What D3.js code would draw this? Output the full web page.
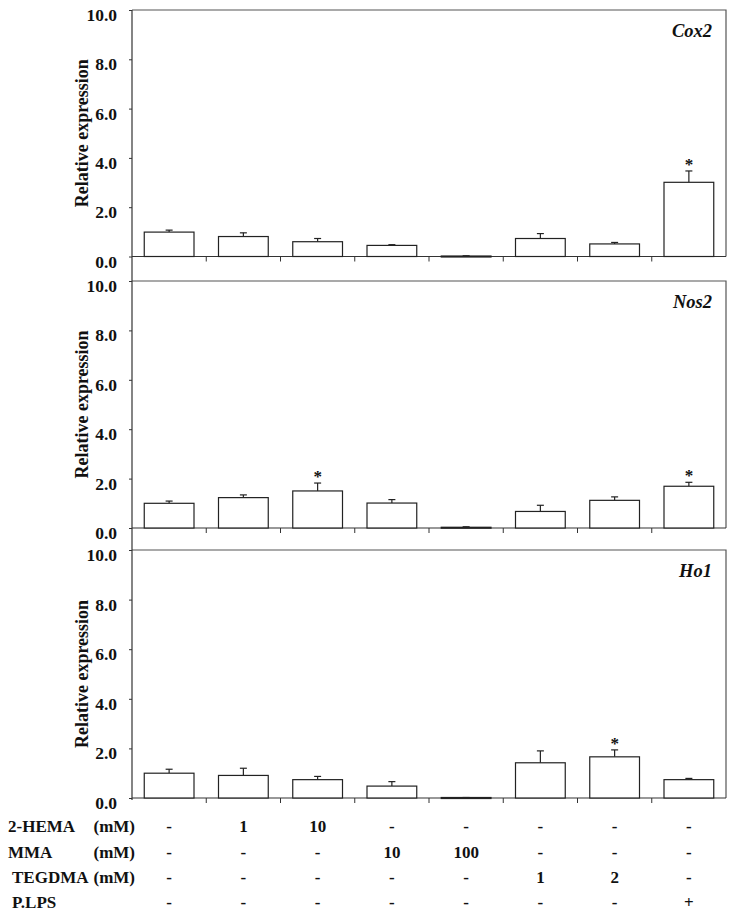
<!DOCTYPE html>
<html>
<head>
<meta charset="utf-8">
<script src="https://cdn.jsdelivr.net/npm/d3@7"></script>
<style>
  html, body { margin: 0; padding: 0; background: #fff; }
  svg { display: block; }
  text { font-family: "Liberation Serif", "Times New Roman", serif; font-weight: bold; fill: #111; }
</style>
</head>
<body>
<script>
// ---- data ----
const categories = ["c1", "c2", "c3", "c4", "c5", "c6", "c7", "c8"];
const genes = ["Cox2", "Nos2", "Ho1"];
const cox2Values = [0.99, 0.81, 0.60, 0.45, 0.02, 0.73, 0.51, 3.01];
const cox2Errors = [0.08, 0.15, 0.13, 0.03, 0.01, 0.20, 0.06, 0.46];
const cox2Signif = [false, false, false, false, false, false, false, true];
const nos2Values = [1.00, 1.23, 1.50, 1.01, 0.03, 0.67, 1.12, 1.69];
const nos2Errors = [0.09, 0.11, 0.32, 0.14, 0.02, 0.25, 0.14, 0.16];
const nos2Signif = [false, false, true, false, false, false, false, true];
const ho1Values = [1.00, 0.91, 0.74, 0.48, 0.02, 1.42, 1.66, 0.74];
const ho1Errors = [0.16, 0.29, 0.13, 0.18, 0.00, 0.48, 0.28, 0.05];
const ho1Signif = [false, false, false, false, false, false, true, false];
const yTicks = [0, 2, 4, 6, 8, 10];
const yLabel = "Relative expression";
const rowNames = ["2-HEMA", "MMA", "TEGDMA", "P.LPS"];
const rowUnits = ["(mM)", "(mM)", "(mM)", ""];
const hemaRow = ["-", "1", "10", "-", "-", "-", "-", "-"];
const mmaRow = ["-", "-", "-", "10", "100", "-", "-", "-"];
const tegdmaRow = ["-", "-", "-", "-", "-", "1", "2", "-"];
const plpsRow = ["-", "-", "-", "-", "-", "-", "-", "+"];

const panels = [
  { gene: genes[0], values: cox2Values, errors: cox2Errors, signif: cox2Signif },
  { gene: genes[1], values: nos2Values, errors: nos2Errors, signif: nos2Signif },
  { gene: genes[2], values: ho1Values, errors: ho1Errors, signif: ho1Signif }
];
const tableRows = [hemaRow, mmaRow, tegdmaRow, plpsRow];

// ---- layout ----
const W = 738, H = 923;
const left = 132, right = 726;
const panelTop = [10, 281, 550];
const panelZero = [256.5, 528, 798];

const svg = d3.select("body").append("svg").attr("width", W).attr("height", H);

const x = d3.scaleBand().domain(categories).range([left, right])
  .paddingInner(0.33).paddingOuter(0.165);
const step = x.step();

panels.forEach((p, i) => {
  const y = d3.scaleLinear().domain([0, 10]).range([panelZero[i], panelTop[i]]);
  const g = svg.append("g");

  // frame (top + right)
  g.append("path")
    .attr("d", `M${left},${panelTop[i]}H${right}V${panelZero[i]}`)
    .attr("fill", "none").attr("stroke", "#555").attr("stroke-width", 1.2);

  // y axis
  const yAxis = d3.axisLeft(y).tickValues(yTicks).tickFormat(d3.format(".1f")).tickSize(3).tickPadding(12);
  const ya = g.append("g").attr("transform", `translate(${left},0)`).call(yAxis);
  ya.select(".domain").remove();
  ya.selectAll("line").attr("stroke", "#333");
  ya.selectAll("text")
    .attr("font-size", 17.5).attr("font-family", "Liberation Serif, Times New Roman, serif")
    .attr("font-weight", "bold").attr("fill", "#111").attr("dy", "0.6em");

  // x baseline with category separators
  g.append("line").attr("x1", left).attr("x2", right)
    .attr("y1", y(0)).attr("y2", y(0)).attr("stroke", "#333").attr("stroke-width", 1.2);
  g.selectAll(".sep").data(categories.slice(0, -1)).join("line")
    .attr("x1", d => x(d) + x.bandwidth() + step * 0.165)
    .attr("x2", d => x(d) + x.bandwidth() + step * 0.165)
    .attr("y1", y(0)).attr("y2", y(0) + 5)
    .attr("stroke", "#333").attr("stroke-width", 1);

  // error bars (upper only)
  const eb = g.selectAll(".err").data(categories).join("g");
  eb.append("line")
    .attr("x1", d => x(d) + x.bandwidth() / 2).attr("x2", d => x(d) + x.bandwidth() / 2)
    .attr("y1", (d, k) => y(p.values[k])).attr("y2", (d, k) => y(p.values[k] + p.errors[k]))
    .attr("stroke", "#222").attr("stroke-width", 1.2);
  eb.append("line")
    .attr("x1", d => x(d) + x.bandwidth() / 2 - 3.5).attr("x2", d => x(d) + x.bandwidth() / 2 + 3.5)
    .attr("y1", (d, k) => y(p.values[k] + p.errors[k])).attr("y2", (d, k) => y(p.values[k] + p.errors[k]))
    .attr("stroke", "#222").attr("stroke-width", 1.2);

  // bars
  g.selectAll(".bar").data(categories).join("rect")
    .attr("x", d => x(d)).attr("width", x.bandwidth())
    .attr("y", (d, k) => y(p.values[k]))
    .attr("height", (d, k) => Math.max(1, y(0) - y(p.values[k])))
    .attr("fill", "#fff").attr("stroke", "#222").attr("stroke-width", 1.2);

  // significance stars
  g.selectAll(".star").data(categories.filter((d, k) => p.signif[k])).join("text")
    .attr("x", d => x(d) + x.bandwidth() / 2)
    .attr("y", d => { const k = categories.indexOf(d); return y(p.values[k] + p.errors[k]) - 1; })
    .attr("text-anchor", "middle").attr("font-size", 17).text("*");

  // gene label
  g.append("text").attr("x", 712).attr("y", panelTop[i] + 27)
    .attr("text-anchor", "end").attr("font-size", 18.5).attr("font-style", "italic")
    .text(p.gene);

  // y label
  g.append("text")
    .attr("transform", `translate(88,${(panelTop[i] + panelZero[i]) / 2}) rotate(-90)`)
    .attr("text-anchor", "middle").attr("font-size", 18).text(yLabel);
});

// continuous left axis line
svg.append("line").attr("x1", left).attr("x2", left)
  .attr("y1", panelTop[0]).attr("y2", panelZero[2] + 2)
  .attr("stroke", "#333").attr("stroke-width", 1.2);

// ---- treatment table ----
const rowBase = [832, 858, 883, 908];
const nameX = [8, 8, 12, 12];
tableRows.forEach((row, r) => {
  svg.append("text").attr("x", nameX[r]).attr("y", rowBase[r]).attr("font-size", 17).text(rowNames[r]);
  if (rowUnits[r]) {
    svg.append("text").attr("x", 135).attr("y", rowBase[r]).attr("text-anchor", "end")
      .attr("font-size", 17).text(rowUnits[r]);
  }
  svg.selectAll(null).data(categories).join("text")
    .attr("x", d => x(d) + x.bandwidth() / 2)
    .attr("y", rowBase[r])
    .attr("text-anchor", "middle").attr("font-size", 17)
    .text((d, k) => row[k]);
});
</script>
</body>
</html>
